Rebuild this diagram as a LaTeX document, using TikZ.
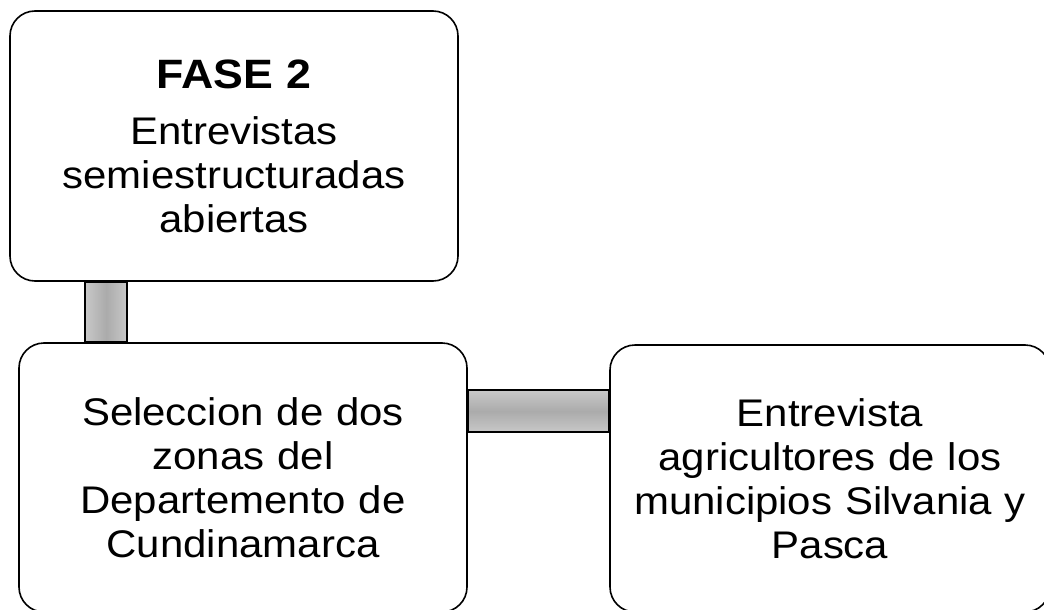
\documentclass[tikz,border=0pt]{standalone}
\usepackage{fontspec}
\setmainfont[FakeStretch=1.09]{Liberation Sans}
\definecolor{barg}{RGB}{171,171,171}
\definecolor{barl}{RGB}{200,200,200}
\tikzset{
  box/.style={draw=black, line width=1.6pt, fill=white, rounded corners=25pt,
    align=center, inner sep=0pt, font=\fontsize{38.5}{44}\selectfont},
  vbar/.style={draw=black, line width=1.6pt, left color=barl, right color=barl, middle color=barg},
  hbar/.style={draw=black, line width=1.6pt, top color=barl, bottom color=barl, middle color=barg},
}
\begin{document}
\begin{tikzpicture}[x=1pt,y=-1pt]
\useasboundingbox (0,0) rectangle (1044,610);
\node[box, minimum width=448pt, minimum height=270pt, text width=440pt] (b1) at (234,146)
  {{\fontsize{41}{50}\selectfont\bfseries FASE 2}\\[12pt]Entrevistas\\semiestructuradas\\abiertas};
\node[box, minimum width=448pt, minimum height=269pt, text width=440pt] (b2) at (243,477.5)
  {Seleccion de dos\\zonas del\\Departemento de\\Cundinamarca};
\node[box, minimum width=440pt, minimum height=267pt, text width=432pt] (b3) at (830,478.5)
  {Entrevista\\agricultores de los\\municipios Silvania y\\Pasca};
\draw[vbar] ([xshift=76pt]b1.south west) rectangle ([xshift=109pt]b2.north west);
\draw[hbar] ([yshift=-48pt]b2.north east) rectangle ([yshift=-88pt]b3.north west);
\end{tikzpicture}
\end{document}
